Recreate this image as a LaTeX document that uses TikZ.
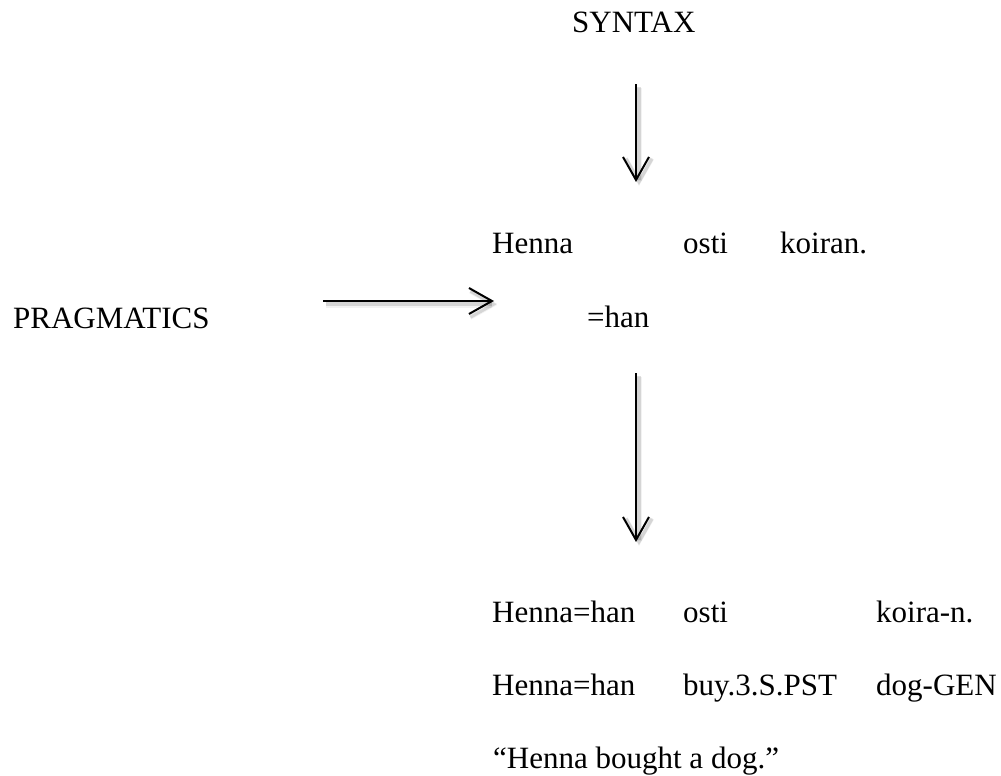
\documentclass[tikz,border=0pt]{standalone}
\usepackage{fontspec}
\setmainfont{Liberation Serif}
\usetikzlibrary{arrows.meta}
\begin{document}
\begin{tikzpicture}[x=1pt,y=-1pt,
  lbl/.style={anchor=base west,inner sep=0pt,font=\fontsize{31}{37}\selectfont},
  flow/.style={line width=2pt,-{Straight Barb[length=23pt,width=26pt,line width=2pt]}},
  haze/.style={line width=3.5pt,draw=black,opacity=0.12,-{Straight Barb[length=23pt,width=26pt,line width=3.5pt]}}]
\useasboundingbox (0,0) rectangle (1001,776);

% labels
\node[lbl] (syn) at (572,33) {SYNTAX};
\node[lbl] (prag) at (13,328) {PRAGMATICS};
\node[lbl] (h1) at (492,253) {Henna};
\node[lbl] (o1) at (683,253) {osti};
\node[lbl] (k1) at (780,253) {koiran.};
\node[lbl] (cl) at (587,327) {=han};

% glossed result
\node[lbl] (g1a) at (492,622) {Henna=han};
\node[lbl] (g1b) at (683,622) {osti};
\node[lbl] (g1c) at (876,622) {koira-n.};
\node[lbl] (g2a) at (492,695) {Henna=han};
\node[lbl] (g2b) at (683,695) {buy.3.S.PST};
\node[lbl] (g2c) at (876,695) {dog-GEN};
\node[lbl] (tr) at (493,768) {“Henna bought a dog.”};

% arrow end points
\coordinate (a1s) at (636,84);
\coordinate (a1e) at (636,182);
\coordinate (a2s) at (323,301);
\coordinate (a2e) at (494,301);
\coordinate (a3s) at (636,373);
\coordinate (a3e) at (636,542);

% soft drop shadows
\foreach \s/\e in {a1s/a1e,a2s/a2e,a3s/a3e}{
  \draw[haze] ([shift={(3,3)}]\s) -- ([shift={(3,3)}]\e);
  \draw[haze,line width=6pt,opacity=0.05] ([shift={(3,4)}]\s) -- ([shift={(3,4)}]\e);
}

% arrows
\draw[flow] (a1s) -- (a1e);
\draw[flow] (a2s) -- (a2e);
\draw[flow] (a3s) -- (a3e);
\end{tikzpicture}
\end{document}
